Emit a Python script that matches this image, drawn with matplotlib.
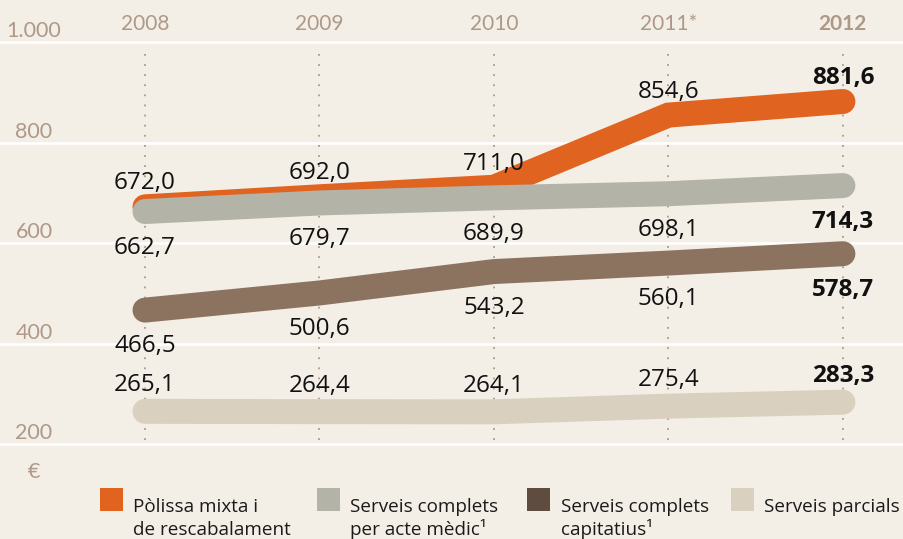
import matplotlib.pyplot as plt
from matplotlib.patches import Rectangle

# data
years = ["2008", "2009", "2010", "2011*", "2012"]
polissa = [672.0, 692.0, 711.0, 854.6, 881.6]
acte_medic = [662.7, 679.7, 689.9, 698.1, 714.3]
capitatius = [466.5, 500.6, 543.2, 560.1, 578.7]
parcials = [265.1, 264.4, 264.1, 275.4, 283.3]

y_ticks = [200, 400, 600, 800, 1000]
y_tick_labels = ["200", "400", "600", "800", "1.000"]

legend_labels = [
    "Pòlissa mixta i\nde rescabalament",
    "Serveis complets\nper acte mèdic¹",
    "Serveis complets\ncapitatius¹",
    "Serveis parcials",
]

BG = "#f3efe7"
TAN = "#ae9988"
C_ORANGE = "#e06320"
C_GRAY = "#b3b3a7"
C_BROWN = "#8c7360"
C_BROWN_DARK = "#5f4c40"
C_BEIGE = "#dad0bf"

W, H = 904, 539
PX_PER_UNIT = 0.5025


def fx(px):
    return px / W


def fy(px):
    return 1 - px / H


def fmt(v):
    return f"{v:.1f}".replace(".", ",")


fig = plt.figure(figsize=(W / 100, H / 100), dpi=100, facecolor=BG)
ax = fig.add_axes([0, 0, 1, 1])
ax.set_facecolor(BG)
ax.set_xlim(-0.831, 4.35)
ax.set_ylim(11.0, 1083.6)
ax.axis("off")

xs = list(range(len(years)))

# white gridlines
for v in y_ticks:
    ax.axhline(v, color="white", linewidth=1.8, zorder=1)

# dotted year guides
for x in xs:
    ax.plot([x, x], [208, 990], color=TAN, linewidth=1.3,
            linestyle=(0, (1, 4.6)), zorder=2)

# thick lines
series = [
    (parcials, C_BEIGE, 3, 14.5),
    (capitatius, C_BROWN, 4, -30.5),
    (polissa, C_ORANGE, 5, 12.5),
    (acte_medic, C_GRAY, 6, -30.5),
]
for vals, color, z, off in series:
    ax.plot(xs, vals, color=color, linewidth=18, solid_capstyle="round",
            solid_joinstyle="miter", zorder=z)
    for i, (x, v) in enumerate(zip(xs, vals)):
        ax.annotate(fmt(v), (x, v), xytext=(0, off), textcoords="offset points",
                    ha="center", va="baseline", fontsize=17.5,
                    family="Open Sans", color="#111111",
                    fontweight="bold" if i == len(xs) - 1 else "normal",
                    zorder=10)

# year labels on top
for i, (x, yr) in enumerate(zip(xs, years)):
    ax.text(x, 1000 + 12 / PX_PER_UNIT, yr, ha="center", va="baseline",
            fontsize=15, family="Lato", color=TAN,
            fontweight="bold" if i == len(xs) - 1 else "normal")

# y labels
for v, lab in zip(y_ticks, y_tick_labels):
    ax.text(fx(34), v + 5 / PX_PER_UNIT, lab,
            transform=ax.get_yaxis_transform(),
            ha="center", va="baseline", fontsize=15.5, family="Lato",
            color=TAN)

fig.text(fx(34), fy(472), "€", ha="center", va="center", fontsize=15.5,
         family="Lato", color=TAN)

# legend
legend_colors = [C_ORANGE, C_GRAY, C_BROWN_DARK, C_BEIGE]
square_x = [100, 317, 527, 731]
text_x = [133, 350, 561, 764]
for lab, col, sx, tx in zip(legend_labels, legend_colors, square_x, text_x):
    fig.patches.append(Rectangle((fx(sx), fy(511)), 23 / W, 23 / H,
                                 transform=fig.transFigure, facecolor=col,
                                 edgecolor="none"))
    for k, line in enumerate(lab.split("\n")):
        fig.text(fx(tx), fy(512 + 23 * k), line, ha="left", va="baseline",
                 fontsize=13.6, family="Open Sans", color="#1a1a1a")

fig.savefig("out.png", dpi=100, facecolor=BG)
